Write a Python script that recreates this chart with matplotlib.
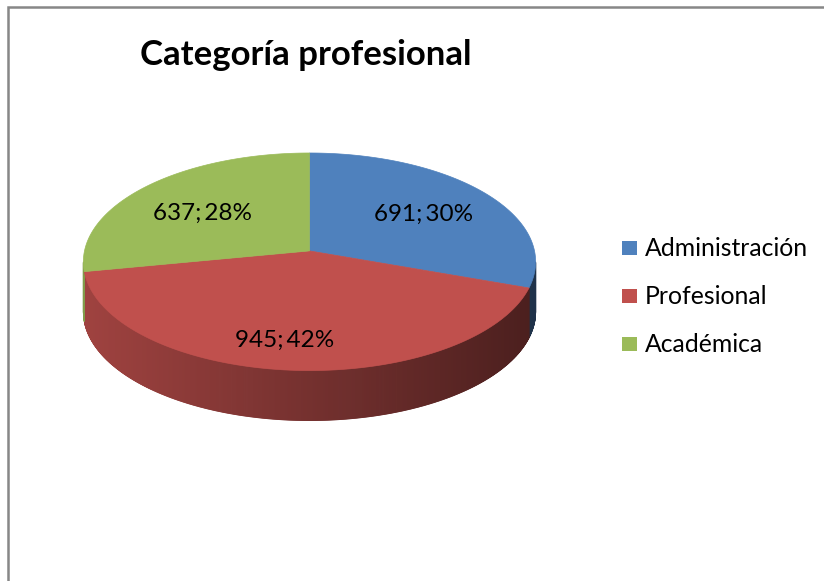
import numpy as np
import matplotlib.pyplot as plt
from matplotlib.patches import Polygon, Rectangle

categories = ["Administración", "Profesional", "Académica"]
values = [691, 945, 637]
colors = ["#4F81BD", "#C0504D", "#9BBB59"]
title = "Categoría profesional"

FONT = "Lato"

# pie geometry in pixel space (tilted disc with mild perspective)
cx, cy = 309.5, 250.9
rx, ry = 225.0, 107.7
persp = 0.1
depth = 50.0


def proj(r, t):
    d = 1 + persp * r * np.sin(t)
    return cx + rx * r * np.cos(t) / d, cy - ry * r * np.sin(t) / d


def hex_rgb(c):
    c = c.lstrip("#")
    return np.array([int(c[i:i + 2], 16) for i in (0, 2, 4)]) / 255.0


fig = plt.figure(figsize=(8.24, 5.81), dpi=100)
ax = fig.add_axes([0, 0, 1, 1])
ax.set_xlim(0, 824)
ax.set_ylim(581, 0)
ax.axis("off")

# outer chart frame
ax.plot([8, 8, 824], [581, 7, 7], color="#878787", lw=1.8, solid_joinstyle="miter")

total = float(sum(values))
fracs = np.array(values) / total
# slices run clockwise from 12 o'clock
starts = np.pi / 2 - 2 * np.pi * np.concatenate([[0], np.cumsum(fracs)[:-1]])
ends = starts - 2 * np.pi * fracs

# visible rim: between the widest points of the front half
t_left = np.pi + np.arcsin(persp)
t_right = 2 * np.pi - np.arcsin(persp)


def norm_range(a, b):
    # a > b (clockwise); return ascending interval in [0, 2pi) terms
    lo, hi = b % (2 * np.pi), a % (2 * np.pi)
    if hi <= lo:
        hi += 2 * np.pi
    return lo, hi


# side walls, shaded darker towards the right
for s, e, col in zip(starts, ends, colors):
    lo, hi = norm_range(s, e)
    for shift in (0, 2 * np.pi, -2 * np.pi):
        a0 = max(lo + shift, t_left)
        a1 = min(hi + shift, t_right)
        if a1 <= a0:
            continue
        ts = np.linspace(a0, a1, max(2, int((a1 - a0) / 0.004)))
        base = hex_rgb(col)
        for t1, t2 in zip(ts[:-1], ts[1:]):
            x1, y1 = proj(1, t1)
            x2, y2 = proj(1, t2)
            xm = 0.5 * (x1 + x2)
            f = 0.61 - 0.22 * (xm - cx) / rx
            c = np.clip(base * f, 0, 1)
            ax.add_patch(Polygon([(x1, y1), (x2, y2), (x2, y2 + depth), (x1, y1 + depth)],
                                 closed=True, facecolor=c, edgecolor=c, lw=0.6))

# top faces
for s, e, col in zip(starts, ends, colors):
    ts = np.linspace(s, e, 200)
    xs, ys = proj(1, ts)
    pts = [(cx, cy)] + list(zip(xs, ys))
    ax.add_patch(Polygon(pts, closed=True, facecolor=col, edgecolor=col, lw=0.5))

# data labels
label_r = 0.62
nudges = [(4, 1), (-14, 18), (-4, 3)]
for v, fr, s, e, (dx, dy) in zip(values, fracs, starts, ends, nudges):
    tm = 0.5 * (s + e)
    lx, ly = proj(label_r, tm)
    ax.text(lx + dx, ly + dy, f"{v};\u2009{round(fr * 100):.0f}%", ha="center", va="center",
            fontsize=17.5, family=FONT, color="#000000")

ax.text(306, 65, title, ha="center", va="baseline", fontsize=25,
        fontweight="bold", family=FONT, color="#000000")

# legend
for i, (name, col) in enumerate(zip(categories, colors)):
    yc = 248 + 48 * i
    ax.add_patch(Rectangle((622, yc - 7), 15, 14, facecolor=col, edgecolor="none"))
    ax.text(645, yc, name, ha="left", va="center", fontsize=17.8, family=FONT,
            color="#000000")

fig.savefig("out.png", dpi=100)
